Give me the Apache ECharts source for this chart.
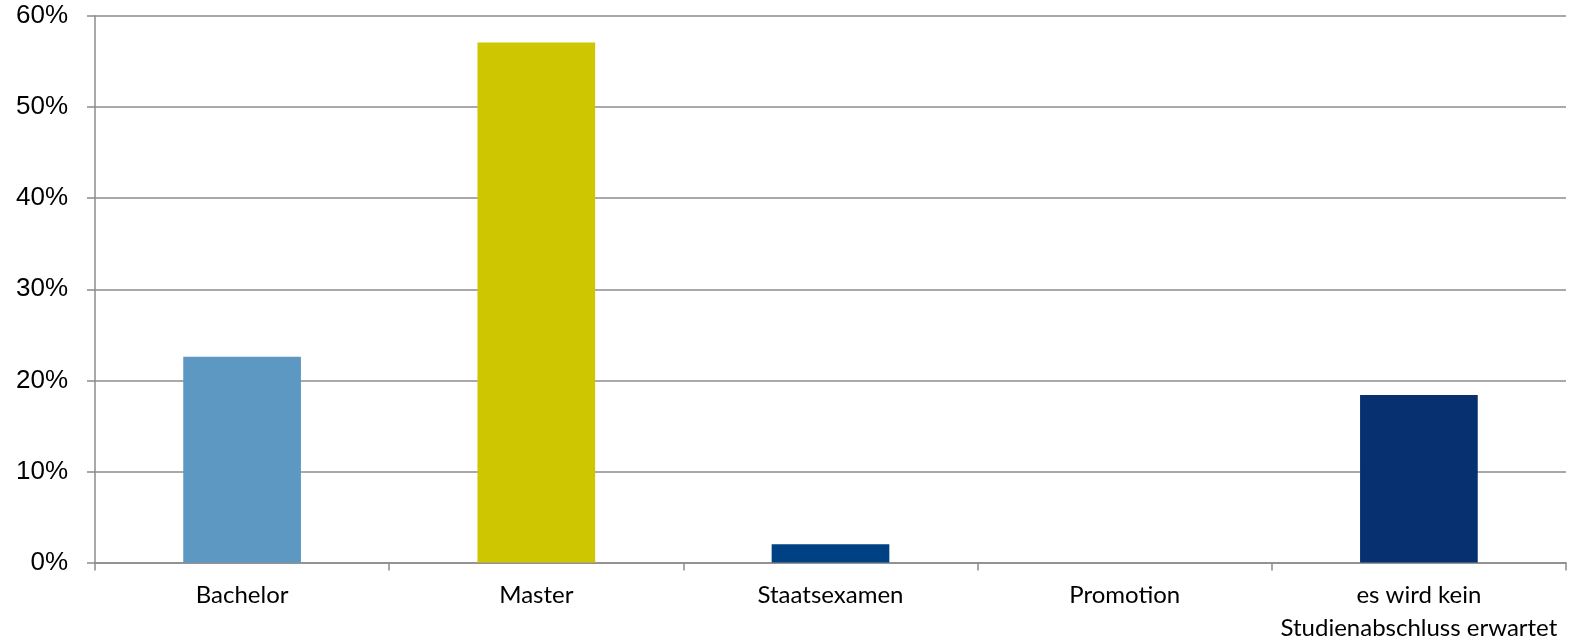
<!DOCTYPE html>
<html>
<head>
<meta charset="utf-8">
<script src="https://cdn.jsdelivr.net/npm/echarts@6/dist/echarts.min.js"></script>
<style>html,body{margin:0;padding:0;background:#fff;}#c{width:1573px;height:642px;}</style>
</head>
<body>
<div id="c"></div>
<script>
const categories = ['Bachelor', 'Master', 'Staatsexamen', 'Promotion', 'es wird kein\nStudienabschluss erwartet'];
const values = [22.6, 57.1, 2.0, 0, 18.4];
const barColors = ['#5c98c1', '#cec600', '#004184', '#06306f', '#06306f'];
const yTicks = [0, 10, 20, 30, 40, 50, 60];

const chart = echarts.init(document.getElementById('c'));
chart.setOption({
  animation: false,
  grid: {left: 95, right: 7, top: 16, bottom: 79.5, containLabel: false, outerBoundsMode: 'none'},
  xAxis: {
    type: 'category',
    data: categories,
    axisLine: {show: true, lineStyle: {color: '#8c8c8c', width: 1.5}},
    axisTick: {show: true, length: 8, lineStyle: {color: '#8c8c8c', width: 1.5}},
    axisLabel: {interval: 0, hideOverlap: false, color: '#000', fontFamily: 'Lato', fontSize: 24, margin: 16, lineHeight: 33}
  },
  yAxis: {
    type: 'value',
    min: yTicks[0], max: yTicks[yTicks.length - 1], interval: 10,
    axisLine: {show: true, lineStyle: {color: '#8c8c8c', width: 1.5}},
    axisTick: {show: true, length: 8, lineStyle: {color: '#8c8c8c', width: 1.5}},
    splitLine: {show: true, lineStyle: {color: '#8c8c8c', width: 1.5}},
    axisLabel: {color: '#000', fontFamily: 'Liberation Sans', fontSize: 26, margin: 27, formatter: v => v + '%'}
  },
  series: [{
    type: 'bar',
    barWidth: '40%',
    data: values.map((v, i) => ({value: v, itemStyle: {color: barColors[i]}}))
  }]
});
</script>
</body>
</html>
